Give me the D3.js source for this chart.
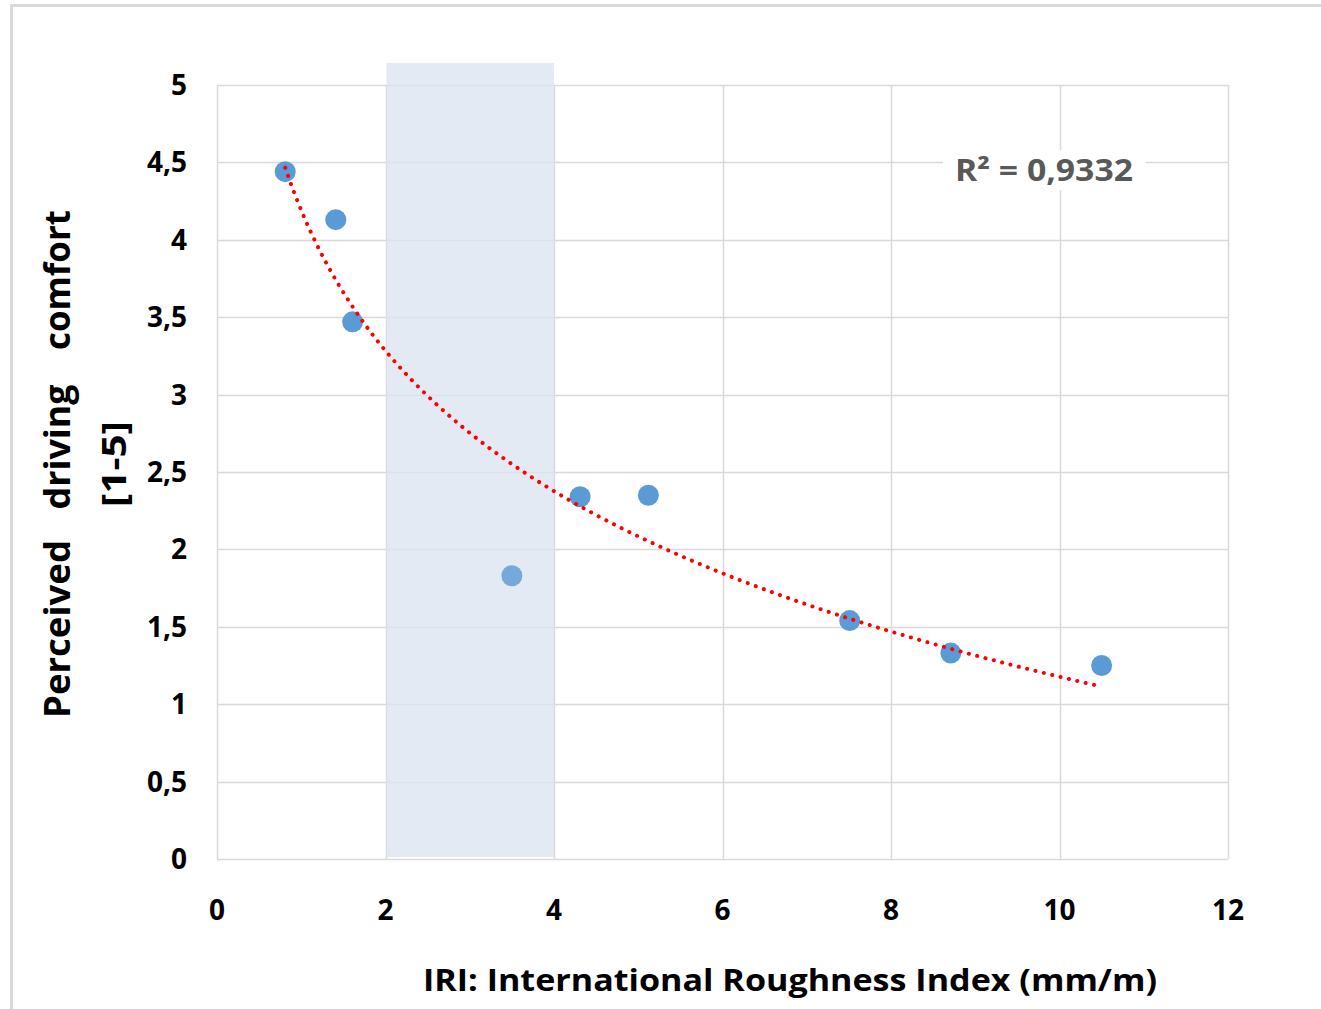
<!DOCTYPE html>
<html>
<head>
<meta charset="utf-8">
<script src="https://cdn.jsdelivr.net/npm/d3@7"></script>
<style>
  body { margin: 0; background: #fff; }
  text { font-family: "Open Sans", "Liberation Sans", sans-serif; font-weight: bold; }
</style>
</head>
<body>
<script>
var width = 1321,
    height = 1009;

// measured points (IRI, comfort)
var iri = [0.81, 1.41, 1.61, 4.31, 5.12, 7.51, 8.71, 10.5];
var comfort = [4.44, 4.13, 3.47, 2.34, 2.35, 1.54, 1.33, 1.25];
// point inside shaded band (lighter marker)
var outlierIri = [3.5];
var outlierComfort = [1.83];

var xTicks = [0, 2, 4, 6, 8, 10, 12];
var yTicks = [0, 0.5, 1, 1.5, 2, 2.5, 3, 3.5, 4, 4.5, 5];
var band = [2, 4];
var r2Label = "R² = 0,9332";

var margin = {left: 217, top: 85, right: 1228, bottom: 859};

var x = d3.scaleLinear().domain([0, 12]).range([margin.left, margin.right]);
var y = d3.scaleLinear().domain([0, 5]).range([margin.bottom, margin.top]);

var svg = d3.select("body").append("svg")
    .attr("width", width)
    .attr("height", height);

// outer frame
svg.append("rect")
    .attr("x", 11.5).attr("y", 5.5)
    .attr("width", width + 10).attr("height", height + 10)
    .attr("fill", "none")
    .attr("stroke", "#d9d9d9")
    .attr("stroke-width", 3);

// gridlines
svg.append("g").selectAll("line")
    .data(yTicks)
    .join("line")
    .attr("x1", margin.left).attr("x2", margin.right)
    .attr("y1", d => Math.round(y(d)) + 0.5).attr("y2", d => Math.round(y(d)) + 0.5)
    .attr("stroke", "#d9d9d9").attr("stroke-width", 1.5);

svg.append("g").selectAll("line")
    .data(xTicks)
    .join("line")
    .attr("y1", margin.top).attr("y2", margin.bottom)
    .attr("x1", d => Math.round(x(d)) + 0.5).attr("x2", d => Math.round(x(d)) + 0.5)
    .attr("stroke", "#d9d9d9").attr("stroke-width", 1.5);

// shaded band, a bit taller than plot
svg.append("rect")
    .attr("x", x(band[0]) + 1)
    .attr("width", x(band[1]) - x(band[0]) - 1)
    .attr("y", 63)
    .attr("height", margin.bottom - 2 - 63)
    .attr("fill", "#dce4f0")
    .attr("opacity", 0.78);

// axis tick labels
svg.append("g").selectAll("text")
    .data(yTicks)
    .join("text")
    .attr("x", 187)
    .attr("y", d => y(d) + 10)
    .attr("text-anchor", "end")
    .attr("font-size", 28)
    .attr("fill", "#000")
    .text(d => String(d).replace(".", ","));

svg.append("g").selectAll("text")
    .data(xTicks)
    .join("text")
    .attr("x", d => x(d))
    .attr("y", 920)
    .attr("text-anchor", "middle")
    .attr("font-size", 28)
    .attr("fill", "#000")
    .text(d => d);

// logarithmic trendline fitted on all points
var allX = iri.concat(outlierIri), allY = comfort.concat(outlierComfort);
var lx = allX.map(Math.log);
var mx = d3.mean(lx), my = d3.mean(allY);
var a = d3.sum(lx, (v, i) => (v - mx) * (allY[i] - my)) / d3.sum(lx, v => (v - mx) * (v - mx));
var b = my - a * mx;
var trendX = d3.range(d3.min(allX), d3.max(allX) + 0.001, 0.05);

var line = d3.line()
    .x(d => x(d))
    .y(d => y(a * Math.log(d) + b))
    .curve(d3.curveMonotoneX);

// points
svg.append("g").selectAll("circle")
    .data(iri)
    .join("circle")
    .attr("cx", d => x(d))
    .attr("cy", (d, i) => y(comfort[i]))
    .attr("r", 10.5)
    .attr("fill", "#5b9bd5");

svg.append("g").selectAll("circle")
    .data(outlierIri)
    .join("circle")
    .attr("cx", d => x(d))
    .attr("cy", (d, i) => y(outlierComfort[i]))
    .attr("r", 10.5)
    .attr("fill", "#78a8da");

svg.append("path")
    .datum(trendX)
    .attr("d", line)
    .attr("fill", "none")
    .attr("stroke", "#ff0000")
    .attr("stroke-width", 4)
    .attr("stroke-linecap", "round")
    .attr("stroke-dasharray", "0.1 8.5");

// R² label with white box
svg.append("rect")
    .attr("x", 943).attr("y", 150)
    .attr("width", 203).attr("height", 40)
    .attr("fill", "#fff");
svg.append("text")
    .attr("x", 1044).attr("y", 181)
    .attr("text-anchor", "middle")
    .attr("font-size", 30)
    .attr("fill", "#595959")
    .attr("textLength", 178)
    .attr("lengthAdjust", "spacingAndGlyphs")
    .text(r2Label);

// axis titles
svg.append("text")
    .attr("x", 790).attr("y", 991)
    .attr("text-anchor", "middle")
    .attr("font-size", 31)
    .attr("fill", "#000")
    .attr("textLength", 734)
    .attr("lengthAdjust", "spacingAndGlyphs")
    .text("IRI: International Roughness Index (mm/m)");

var yTitleWords = [
  {t: "Perceived", c: 629, len: 178},
  {t: "driving", c: 447, len: 125},
  {t: "comfort", c: 280, len: 140}
];
svg.append("g").selectAll("text")
    .data(yTitleWords)
    .join("text")
    .attr("transform", d => "translate(70," + d.c + ") rotate(-90)")
    .attr("text-anchor", "middle")
    .attr("font-size", 36)
    .attr("fill", "#000")
    .attr("textLength", d => d.len)
    .attr("lengthAdjust", "spacingAndGlyphs")
    .text(d => d.t);

svg.append("text")
    .attr("transform", "translate(126,464) rotate(-90)")
    .attr("text-anchor", "middle")
    .attr("font-size", 34)
    .attr("fill", "#000")
    .attr("textLength", 86)
    .attr("lengthAdjust", "spacingAndGlyphs")
    .text("[1-5]");
</script>
</body>
</html>
